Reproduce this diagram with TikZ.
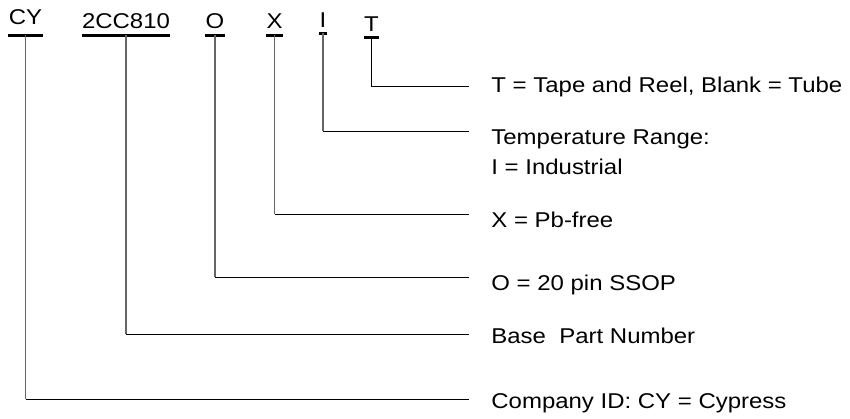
\documentclass[tikz,border=0pt]{standalone}
\usepackage{fontspec}
\setmainfont{Liberation Sans}[FakeStretch=1.12]
\begin{document}
\begin{tikzpicture}[x=0.5pt, y=-0.5pt, font=\fontsize{10.7}{15}\selectfont,
    part/.style = {inner sep=0, anchor=base, text depth=3.5pt},
    desc/.style = {inner sep=0, anchor=base west, align=left},
    stem/.style = {draw=black!60, line width=0.65pt},
    lead/.style = {draw=black, line width=0.5pt},
    bar/.style = {line width=1.1pt}]
    \useasboundingbox (0,0) rectangle (850,418);

    % code fields
    \node[part, text depth=5.5pt] (cy) at (25.5,24) {CY};
    \node[part] (pn) at (126,28) {2CC810};
    \node[part] (pkg) at (215,28) {O};
    \node[part] (pbf) at (274.5,28) {X};
    \node[part, text depth=3pt] (tmp) at (323,27) {I};
    \node[part, text depth=3pt] (tr) at (371.5,31) {T};
    \foreach \n in {cy,pn,pkg,pbf,tmp,tr}
        \draw[bar] (\n.south west) -- (\n.south east);

    % descriptions (base of a two-line node is its last line)
    \node[desc] (dtr) at (491,92) {T = Tape and Reel, Blank = Tube};
    \node[desc] (dtmp) at (491,174) {Temperature Range:\\I = Industrial};
    \node[desc] (dpbf) at (491,227) {X = Pb-free};
    \node[desc] (dpkg) at (491,290) {O = 20 pin SSOP};
    \node[desc] (dpn) at (491,343) {Base\ \ Part Number};
    \node[desc] (dcy) at (491,408) {Company ID: CY = Cypress};

    % leaders
    \coordinate (tr-end) at (469,86);
    \draw[lead] (tr.south) |- (tr-end);
    \foreach \n/\y in {tmp/131, pbf/214, pkg/277, pn/334, cy/399} {
        \coordinate (\n-end) at (469,\y);
        \draw[stem] (\n.south) -- (\n.south |- \n-end);
        \draw[lead] (\n.south |- \n-end) -- (\n-end);
    }
\end{tikzpicture}
\end{document}
